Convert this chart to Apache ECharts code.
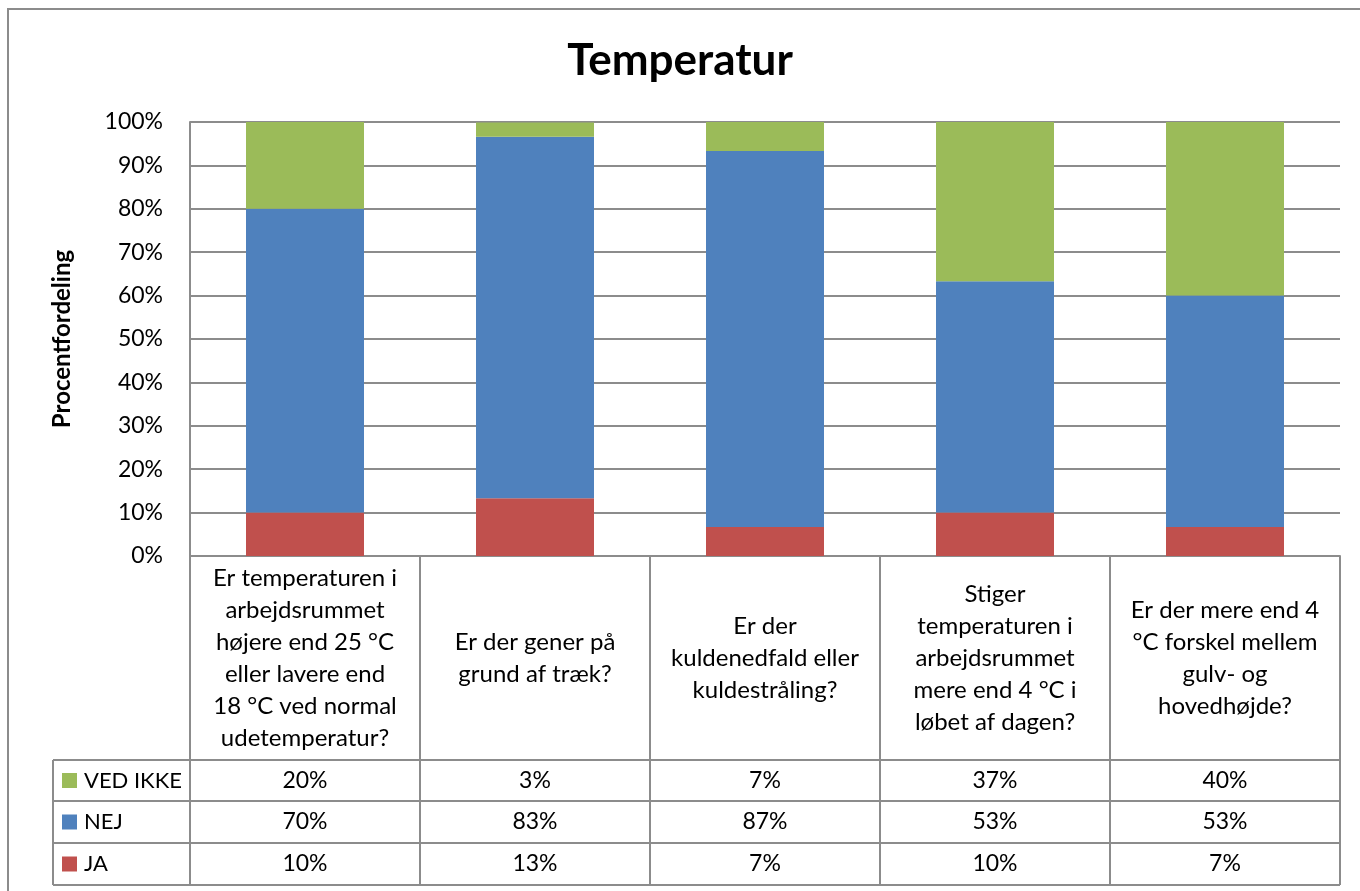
<!DOCTYPE html>
<html>
<head>
<meta charset="utf-8">
<script src="https://cdn.jsdelivr.net/npm/echarts@6/dist/echarts.min.js"></script>
<style>html,body{margin:0;padding:0;background:#fff}#c{width:1360px;height:891px}</style>
</head>
<body>
<div id="c"></div>
<script>
var categories = [
  'Er temperaturen i\narbejdsrummet\nhøjere end 25 °C\neller lavere end\n18 °C ved normal\nudetemperatur?',
  'Er der gener på\ngrund af træk?',
  'Er der\nkuldenedfald eller\nkuldestråling?',
  'Stiger\ntemperaturen i\narbejdsrummet\nmere end 4 °C i\nløbet af dagen?',
  'Er der mere end 4\n°C forskel mellem\ngulv- og\nhovedhøjde?'
];
var seriesNames = ['JA', 'NEJ', 'VED IKKE'];
var jaValues = [10, 13.3, 6.7, 10, 6.7];
var nejValues = [70, 83.3, 86.6, 53.3, 53.3];
var vedIkkeValues = [20, 3.3, 6.7, 36.7, 40];
var yTicks = [0, 10, 20, 30, 40, 50, 60, 70, 80, 90, 100];

var FONT = 'Lato';
var colors = { 'JA': '#C0504D', 'NEJ': '#4F81BD', 'VED IKKE': '#9BBB59' };
var lineColor = '#8c8c8c';

var chart = echarts.init(document.getElementById('c'));
var gridLeft = 190, gridRight = 20, gridTop = 122, gridBottom = 335;

var option = {
  animation: false,
  backgroundColor: '#fff',
  textStyle: { fontFamily: FONT },
  title: {
    text: 'Temperatur', left: 'center', top: 34,
    textStyle: { fontFamily: FONT, fontSize: 44, fontWeight: 'bold', color: '#000' }
  },
  grid: { left: gridLeft, right: gridRight, top: gridTop, bottom: gridBottom, containLabel: false },
  xAxis: {
    type: 'category', data: categories,
    axisLine: { lineStyle: { color: lineColor, width: 2 } },
    axisTick: { show: true, length: 329, lineStyle: { color: lineColor, width: 2 } },
    axisLabel: {
      color: '#000', fontFamily: FONT, fontSize: 24, lineHeight: 32,
      verticalAlign: 'middle', margin: 102, interval: 0
    }
  },
  yAxis: {
    type: 'value', min: 0, max: 100, interval: 10,
    name: 'Procentfordeling', nameLocation: 'middle', nameGap: 116, nameRotate: 90,
    nameTextStyle: { fontFamily: FONT, fontSize: 24, fontWeight: 'bold', color: '#000' },
    axisLine: { show: true, lineStyle: { color: lineColor, width: 2 } },
    axisTick: { show: false },
    splitLine: { lineStyle: { color: lineColor, width: 2 } },
    axisLabel: { color: '#000', fontFamily: FONT, fontSize: 23, margin: 27, formatter: function (v) { return v + '%'; } }
  },
  series: [
    { name: 'JA', type: 'bar', stack: 's', data: jaValues, barWidth: 118, itemStyle: { color: colors['JA'] } },
    { name: 'NEJ', type: 'bar', stack: 's', data: nejValues, barWidth: 118, itemStyle: { color: colors['NEJ'] } },
    { name: 'VED IKKE', type: 'bar', stack: 's', data: vedIkkeValues, barWidth: 118, itemStyle: { color: colors['VED IKKE'] } }
  ]
};
chart.setOption(option);

// data table below the chart
var rows = [
  { name: 'VED IKKE', values: vedIkkeValues, top: 760, bottom: 801 },
  { name: 'NEJ', values: nejValues, top: 801, bottom: 843 },
  { name: 'JA', values: jaValues, top: 843, bottom: 885 }
];
var tableLeft = 53, tableRight = 1360 - gridRight;
var g = [];
g.push({ type: 'rect', shape: { x: 8, y: 9, width: 1400, height: 1000 }, style: { fill: 'none', stroke: lineColor, lineWidth: 2 }, silent: true });
[760, 801, 843, 885].forEach(function (y) {
  g.push({ type: 'line', shape: { x1: tableLeft, y1: y, x2: tableRight, y2: y }, style: { stroke: lineColor, lineWidth: 2 } });
});
g.push({ type: 'line', shape: { x1: tableLeft, y1: 760, x2: tableLeft, y2: 885 }, style: { stroke: lineColor, lineWidth: 2 } });
rows.forEach(function (r) {
  var cy = (r.top + r.bottom) / 2;
  g.push({ type: 'rect', shape: { x: 62, y: cy - 7.5, width: 15, height: 15 }, style: { fill: colors[r.name] } });
  g.push({ type: 'text', x: 84, y: cy, style: { text: r.name, fontFamily: FONT, fontSize: 22, fill: '#000', verticalAlign: 'middle', align: 'left' } });
  r.values.forEach(function (v, i) {
    var px = chart.convertToPixel({ xAxisIndex: 0 }, categories[i]);
    g.push({ type: 'text', x: px, y: cy, style: { text: Math.round(v) + '%', fontFamily: FONT, fontSize: 23, fill: '#000', align: 'center', verticalAlign: 'middle' } });
  });
});
chart.setOption({ graphic: { elements: g } });
</script>
</body>
</html>
